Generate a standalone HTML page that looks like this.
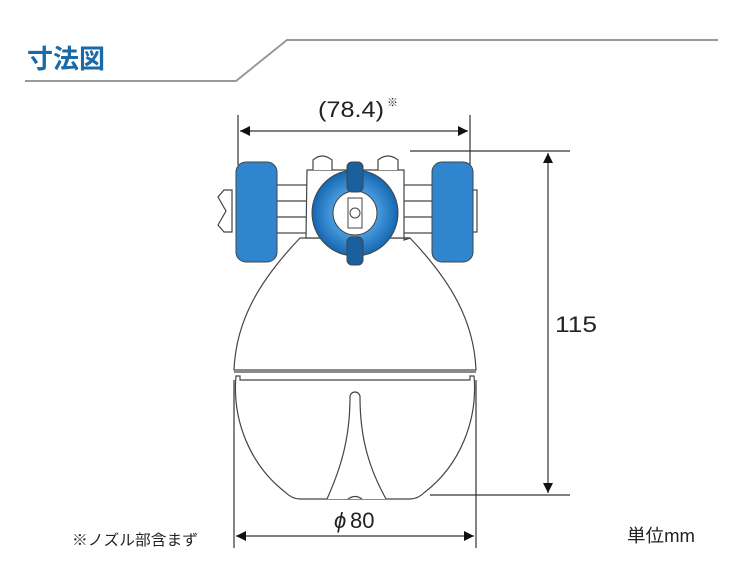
<!DOCTYPE html>
<html><head><meta charset="utf-8"><style>
html,body{margin:0;padding:0;background:#fff}
svg{display:block}
</style></head><body>
<svg width="756" height="571" viewBox="0 0 756 571" xmlns="http://www.w3.org/2000/svg">
<defs>
<radialGradient id="g" cx="50%" cy="50%" r="50%">
<stop offset="0.5" stop-color="#4a9ee0"/><stop offset="1" stop-color="#1566b0"/>
</radialGradient>
<marker id="a" viewBox="0 0 10 10" refX="10" refY="5" markerWidth="10" markerHeight="10" orient="auto-start-reverse" markerUnits="userSpaceOnUse"><path d="M0,0 L10,5 L0,10z" fill="#111"/></marker>
</defs>
<polyline points="25,81 236,81 287,40 718,40" fill="none" stroke="#999" stroke-width="2"/>
<text x="27" y="68" font-family="Liberation Sans,Noto Sans CJK JP,sans-serif" font-weight="bold" font-size="26" fill="#1a6aa8">寸法図</text>

<g stroke="#333" stroke-width="1.2" fill="none">
<line x1="238" y1="115" x2="238" y2="165"/><line x1="470" y1="115" x2="470" y2="165"/>
<line x1="240" y1="131" x2="468" y2="131" marker-start="url(#a)" marker-end="url(#a)"/>
<line x1="410" y1="151" x2="570" y2="151"/><line x1="430" y1="495" x2="570" y2="495"/>
<line x1="548" y1="153" x2="548" y2="493" marker-start="url(#a)" marker-end="url(#a)"/>
<line x1="234" y1="380" x2="234" y2="548"/><line x1="476" y1="380" x2="476" y2="548"/>
<line x1="236" y1="536" x2="474" y2="536" marker-start="url(#a)" marker-end="url(#a)"/>
</g>
<g font-family="Liberation Sans,Noto Sans CJK JP,sans-serif" fill="#222">
<text x="318" y="117" font-size="22" textLength="66" lengthAdjust="spacingAndGlyphs">(78.4)</text><text x="387" y="106" font-size="11">※</text>
<text x="555" y="332" font-size="22" textLength="42" lengthAdjust="spacingAndGlyphs">115</text>
<text x="334" y="528" font-size="22" font-style="italic">ϕ</text><text x="350" y="528" font-size="22">80</text>
<text x="72" y="545" font-size="15" textLength="126" lengthAdjust="spacingAndGlyphs">※ノズル部含まず</text>
<text x="627" y="542" font-size="18" textLength="68" lengthAdjust="spacingAndGlyphs">単位mm</text>
</g>

<g stroke="#444" stroke-width="1.2" fill="#fff">
<path d="M300,238 C260,280 236,320 234,370 L476,370 C474,320 450,280 410,238 Z"/>
<line x1="234" y1="372" x2="476" y2="372"/>
<path d="M236,376 L240,376 L240,380 L470,380 L470,376 L474,376 C478,420 460,465 425,492 Q418,499 410,499 L300,499 Q292,499 285,492 C250,465 232,420 236,376 Z"/>
<path d="M327,499 C340,470 350,440 350,397 A5,5 0 0 1 360,397 C360,440 370,470 386,499" />
<path d="M348,499 Q355,494 362,499"/>
<rect x="272" y="185" width="36" height="48"/><rect x="402" y="185" width="36" height="48"/>
<line x1="272" y1="201" x2="308" y2="201"/><line x1="272" y1="217" x2="308" y2="217"/>
<line x1="402" y1="201" x2="438" y2="201"/><line x1="402" y1="217" x2="438" y2="217"/>
<path d="M307,170 L404,170 L404,240 L410,238 L306,238 Z"/>
<path d="M313,170 L313,160 Q322,152 332,160 L332,170 M378,170 L378,160 Q388,152 398,160 L398,170"/>
<path d="M224,190 L232,190 L232,232 L224,232 L218,225 L226,211 L218,197 Z"/>
<rect x="472" y="190" width="5" height="42"/>
</g>
<rect x="236" y="162" width="41" height="100" rx="10" fill="#2f86cf" stroke="#444" stroke-width="1"/>
<rect x="432" y="162" width="41" height="100" rx="10" fill="#2f86cf" stroke="#444" stroke-width="1"/>
<circle cx="355" cy="213" r="43" fill="url(#g)" stroke="#444"/>
<circle cx="355" cy="213" r="22" fill="#fff" stroke="#444"/>
<rect x="348" y="198" width="14" height="30" fill="#fff" stroke="#444"/>
<circle cx="355" cy="213" r="5" fill="none" stroke="#444"/>
<rect x="347" y="162" width="16" height="30" rx="5" fill="#1a5f9e" stroke="#444"/>
<rect x="347" y="237" width="16" height="28" rx="5" fill="#1a5f9e" stroke="#444"/>
</svg>
</body></html>
